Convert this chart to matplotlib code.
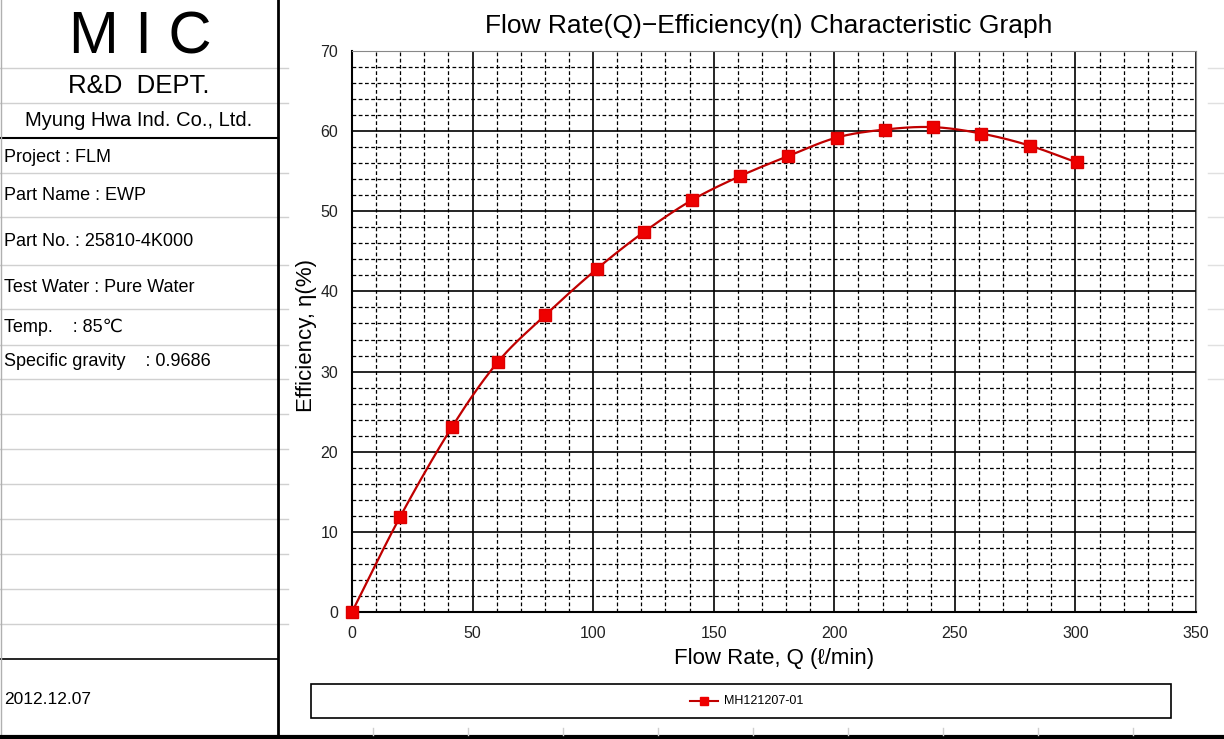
import matplotlib.pyplot as plt
import numpy as np
from matplotlib.ticker import MultipleLocator

plt.rcParams['font.family'] = ['Liberation Sans', 'DejaVu Sans']

# data
flow = [0, 20, 41.5, 60.5, 80, 101.5, 121, 141, 161, 181, 201, 221, 241, 261, 281, 300.5]
eff = [0, 11.9, 23.1, 31.2, 37.0, 42.8, 47.4, 51.4, 54.4, 56.9, 59.2, 60.2, 60.5, 59.7, 58.2, 56.1]
series_name = 'MH121207-01'

info_lines = ['Project : FLM', 'Part Name : EWP', 'Part No. : 25810-4K000',
              'Test Water : Pure Water', 'Temp.    : 85\u2103', 'Specific gravity    : 0.9686']
info_y = [157, 196, 241, 287, 327, 362]
date_text = '2012.12.07'


def catmull_rom(x, y, n=20):
    # smoothed line like the spreadsheet's "smoothed line" option
    x = np.asarray(x, float)
    y = np.asarray(y, float)
    px = np.concatenate([[2 * x[0] - x[1]], x, [2 * x[-1] - x[-2]]])
    py = np.concatenate([[2 * y[0] - y[1]], y, [2 * y[-1] - y[-2]]])
    xs, ys = [], []
    t = np.linspace(0, 1, n, endpoint=False)
    for i in range(1, len(px) - 2):
        for p, out in ((px, xs), (py, ys)):
            p0, p1, p2, p3 = p[i - 1], p[i], p[i + 1], p[i + 2]
            out.extend(0.5 * (2 * p1 + (-p0 + p2) * t + (2 * p0 - 5 * p1 + 4 * p2 - p3) * t ** 2
                              + (-p0 + 3 * p1 - 3 * p2 + p3) * t ** 3))
    xs.append(x[-1])
    ys.append(y[-1])
    return np.array(xs), np.array(ys)


W, H = 1224, 739
fig = plt.figure(figsize=(W / 100, H / 100), dpi=100)

##########################################
## background sheet in pixel coords     ##
##########################################
bg = fig.add_axes([0, 0, 1, 1])
bg.set_xlim(0, W)
bg.set_ylim(H, 0)
bg.axis('off')

for gy in [68, 103, 173, 217, 265, 309, 345, 379, 414, 449, 484, 519, 554, 589, 624]:
    bg.plot([0, 288], [gy, gy], color='#d0d0d0', lw=1)
for gy in [68, 103, 173, 217, 265, 309, 345, 379]:
    bg.plot([1208, W], [gy, gy], color='#e0e0e0', lw=1)
bg.plot([0, 278], [138, 138], color='black', lw=1.5)
bg.plot([0, 278], [659, 659], color='black', lw=1.2)
bg.plot([278, 278], [0, H], color='black', lw=2)
bg.plot([1, 1], [0, H], color='#b0b0b0', lw=1)
bg.plot([0, W], [737, 737], color='black', lw=3)
for gx in [373, 468, 563, 658, 753, 848, 943, 1038, 1133]:
    bg.plot([gx, gx], [728, 735], color='#d0d0d0', lw=1)

bg.text(140, 38, 'M I C', fontsize=43, ha='center', va='center')
bg.text(139, 86, 'R&D  DEPT.', fontsize=18.5, ha='center', va='center')
bg.text(139, 121, 'Myung Hwa Ind. Co., Ltd.', fontsize=14.5, ha='center', va='center')
for txt, ty in zip(info_lines, info_y):
    bg.text(4, ty, txt, fontsize=13, ha='left', va='center')
bg.text(4, 700, date_text, fontsize=12.5, ha='left', va='center')

bg.text(769, 26, 'Flow Rate(Q)\u2212Efficiency(\u03b7) Characteristic Graph',
        fontsize=19, ha='center', va='center')

# legend box
bg.add_patch(plt.Rectangle((311, 684), 860, 34, fill=False, ec='black', lw=1.2))
bg.plot([690, 718], [701, 701], color='#c00000', lw=1.5)
bg.plot([704], [701], 's', color='#ee0000', ms=6)
bg.text(724, 701, series_name, fontsize=9, ha='left', va='center')

##########################################
## chart                                ##
##########################################
ax = fig.add_axes([352 / W, 1 - 612 / H, (1196 - 352) / W, (612 - 51) / H])
ax.set_xlim(0, 350)
ax.set_ylim(0, 70)
ax.xaxis.set_major_locator(MultipleLocator(50))
ax.xaxis.set_minor_locator(MultipleLocator(10))
ax.yaxis.set_major_locator(MultipleLocator(10))
ax.yaxis.set_minor_locator(MultipleLocator(2))
ax.grid(which='major', color='black', lw=1.2, ls='-')
ax.grid(which='minor', color='black', lw=0.9, ls=(0, (3, 2)))
ax.set_axisbelow(True)
ax.tick_params(which='both', length=0)
ax.tick_params(axis='y', pad=10, labelsize=11.5, labelcolor='#222222')
ax.tick_params(axis='x', pad=10, labelsize=11.5, labelcolor='#222222')
for s in ['left', 'bottom']:
    ax.spines[s].set_linewidth(1.5)
for s in ['top', 'right']:
    ax.spines[s].set_color('#888888')

sx, sy = catmull_rom(flow, eff)
ax.plot(sx, sy, color='#c00000', lw=1.6, clip_on=False, zorder=3)
ax.plot(flow, eff, 's', color='#ee0000', mec='#dd0000', ms=8.5, clip_on=False, zorder=4)

ax.set_xlabel('Flow Rate, Q (\u2113/min)', fontsize=16, labelpad=5)
ax.set_ylabel('Efficiency, \u03b7(%)', fontsize=16)
ax.yaxis.set_label_coords(-0.041, 0.492)

fig.savefig('out.png', dpi=100)
